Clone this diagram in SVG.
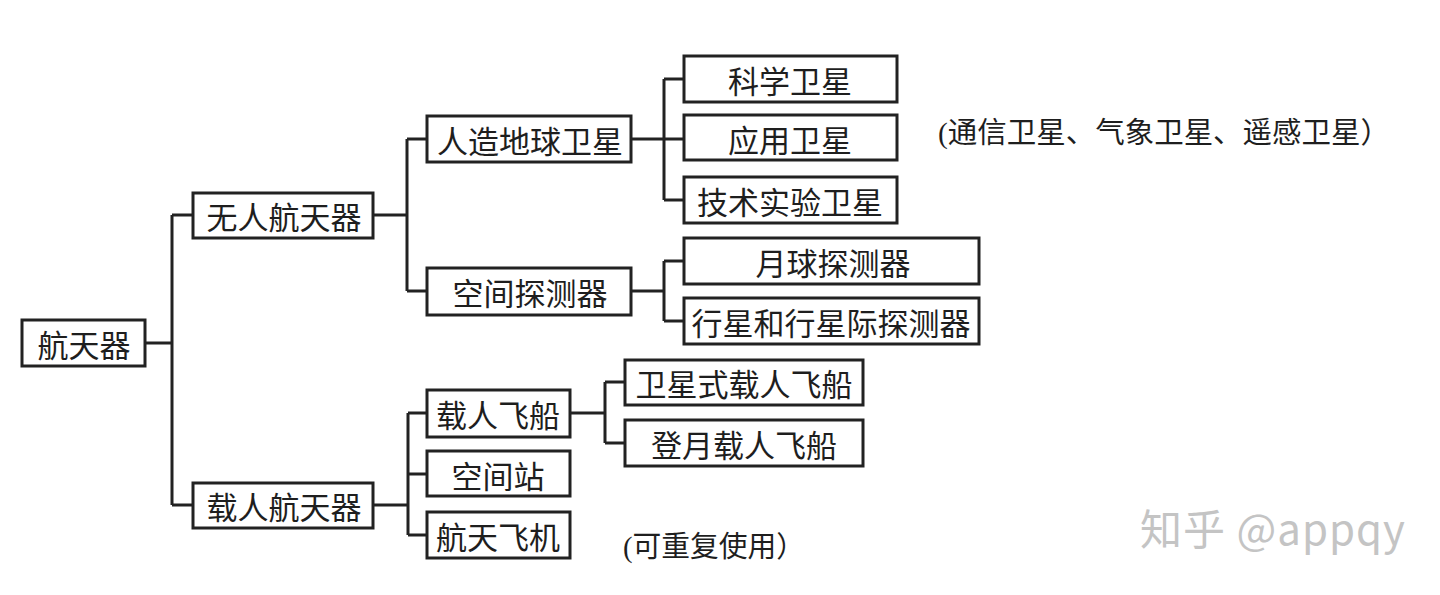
<svg xmlns="http://www.w3.org/2000/svg" width="1440" height="595" viewBox="0 0 1440 595">
<style>
.box{fill:#fff;stroke:#222;stroke-width:3}
.lbl{font-family:"Noto Sans CJK SC","Noto Sans",sans-serif;font-size:31px;fill:#1e1e1e;text-anchor:middle;dominant-baseline:central}
.note{font-family:"Liberation Serif","Noto Sans CJK SC",serif;font-size:29px;fill:#1e1e1e}
.conn{fill:none;stroke:#222;stroke-width:3}
.wm{font-family:"Noto Sans CJK SC","Noto Sans",sans-serif;font-size:42px;fill:#c4c4c4}
</style>
<rect width="1440" height="595" fill="#fff"/>
<g id="connectors" class="conn">
<path d="M145,343 H172 M172,215 V505 M172,215 H193 M172,505 H193"/>
<path d="M373,215 H407 M407,139 V291 M407,139 H427 M407,291 H427"/>
<path d="M631,139 H684 M664,79 V200 M664,79 H684 M664,200 H684"/>
<path d="M631,291 H664 M664,261 V321 M664,261 H684 M664,321 H684"/>
<path d="M373,505 H408 M408,413 V535 M408,413 H427 M408,474 H427 M408,535 H427"/>
<path d="M570,413 H605 M605,382 V443 M605,382 H625 M605,443 H625"/>
</g>
<g id="n-root"><rect class="box" x="22" y="320" width="123" height="46"/><text class="lbl" x="84" y="343">航天器</text></g>
<g id="n-unmanned"><rect class="box" x="193" y="193" width="180" height="45"/><text class="lbl" x="284" y="215">无人航天器</text></g>
<g id="n-manned"><rect class="box" x="193" y="483" width="180" height="45"/><text class="lbl" x="284" y="505">载人航天器</text></g>
<g id="n-satellite"><rect class="box" x="427" y="116" width="204" height="46"/><text class="lbl" x="530" y="139">人造地球卫星</text></g>
<g id="n-probe"><rect class="box" x="427" y="268" width="204" height="47"/><text class="lbl" x="530" y="291">空间探测器</text></g>
<g id="n-sci"><rect class="box" x="684" y="56" width="213" height="46"/><text class="lbl" x="790" y="79">科学卫星</text></g>
<g id="n-app"><rect class="box" x="684" y="115" width="213" height="45"/><text class="lbl" x="790" y="138">应用卫星</text></g>
<g id="n-tech"><rect class="box" x="684" y="177" width="213" height="46"/><text class="lbl" x="790" y="200">技术实验卫星</text></g>
<g id="n-lunar"><rect class="box" x="684" y="238" width="295" height="46"/><text class="lbl" x="833" y="261">月球探测器</text></g>
<g id="n-planet"><rect class="box" x="684" y="298" width="295" height="46"/><text class="lbl" x="831" y="321">行星和行星际探测器</text></g>
<g id="n-ship"><rect class="box" x="427" y="390" width="143" height="47"/><text class="lbl" x="498" y="413">载人飞船</text></g>
<g id="n-station"><rect class="box" x="427" y="451" width="143" height="45"/><text class="lbl" x="498" y="474">空间站</text></g>
<g id="n-shuttle"><rect class="box" x="427" y="512" width="143" height="46"/><text class="lbl" x="498" y="535">航天飞机</text></g>
<g id="n-satship"><rect class="box" x="625" y="360" width="238" height="45"/><text class="lbl" x="744" y="382">卫星式载人飞船</text></g>
<g id="n-moonship"><rect class="box" x="625" y="420" width="238" height="46"/><text class="lbl" x="744" y="443">登月载人飞船</text></g>
<g id="notes">
<text class="note" x="938" y="143" textLength="452" lengthAdjust="spacingAndGlyphs">(通信卫星、气象卫星、遥感卫星）</text>
<text class="note" x="623" y="557" textLength="182" lengthAdjust="spacingAndGlyphs">(可重复使用）</text>
</g>
<text class="wm" x="1140" y="545" textLength="265">知乎 @appqy</text>
</svg>
